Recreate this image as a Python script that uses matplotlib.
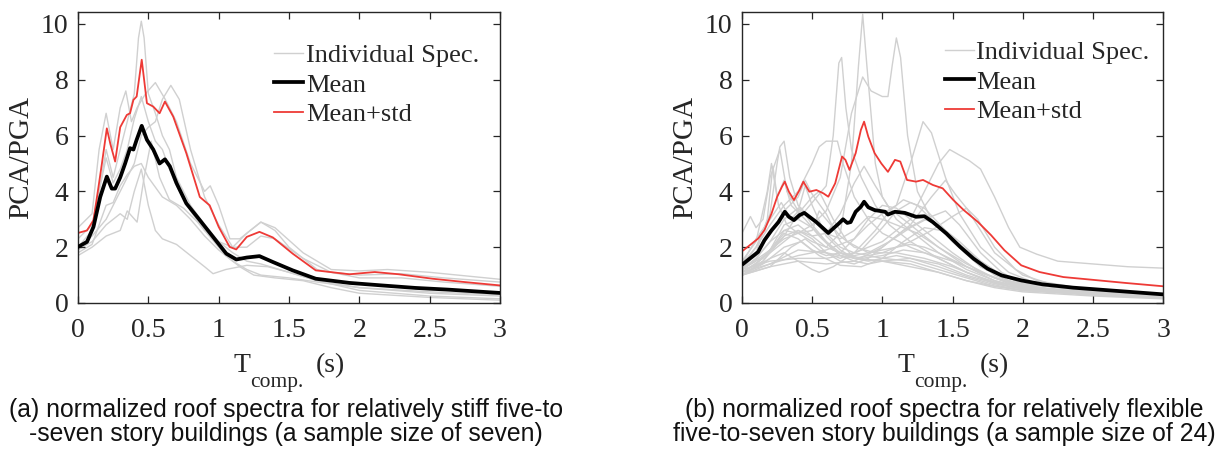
import matplotlib
matplotlib.use("Agg")
import matplotlib.pyplot as plt

plt.rcParams['font.family'] = ['Liberation Serif', 'DejaVu Serif']

# ---------------- Panel (a): stiff buildings ----------------
a_mean_T = [0, 0.064, 0.11, 0.158, 0.205, 0.24, 0.264, 0.30, 0.335, 0.37, 0.394, 0.417, 0.453,
            0.49, 0.535, 0.58, 0.618, 0.653, 0.70, 0.77, 0.866, 0.96, 1.054, 1.125, 1.2, 1.29,
            1.385, 1.526, 1.69, 1.93, 2.16, 2.4, 2.63, 3.0]
a_mean_V = [2.01, 2.19, 2.73, 3.8, 4.53, 4.1, 4.1, 4.5, 5.0, 5.55, 5.5, 5.85, 6.35,
            5.85, 5.5, 5.0, 5.15, 4.9, 4.3, 3.57, 2.97, 2.37, 1.77, 1.56, 1.63, 1.68,
            1.47, 1.17, 0.87, 0.72, 0.63, 0.54, 0.48, 0.36]

a_std_T = [0, 0.064, 0.11, 0.146, 0.17, 0.205, 0.23, 0.264, 0.30, 0.347, 0.37, 0.394, 0.417,
           0.453, 0.49, 0.535, 0.58, 0.618, 0.677, 0.77, 0.866, 0.936, 1.0, 1.078, 1.125, 1.2,
           1.29, 1.385, 1.526, 1.69, 1.93, 2.11, 2.28, 2.52, 2.75, 3.0]
a_std_V = [2.51, 2.6, 2.97, 4.17, 5.0, 6.26, 5.7, 5.07, 6.3, 6.74, 6.8, 7.28, 7.4,
           8.72, 7.16, 7.04, 6.8, 7.22, 6.68, 5.37, 3.8, 3.5, 2.73, 2.01, 1.92, 2.37,
           2.55, 2.35, 1.77, 1.17, 1.03, 1.11, 1.03, 0.87, 0.75, 0.63]

a_indiv = [
    [(0, 2.0), (0.1, 2.6), (0.15, 4.0), (0.2, 5.5), (0.25, 4.5), (0.3, 5.5), (0.35, 6.5), (0.4, 7.5),
     (0.43, 9.5), (0.45, 10.1), (0.47, 9.5), (0.5, 7.5), (0.55, 6.8), (0.6, 6.0), (0.65, 5.5),
     (0.7, 4.5), (0.8, 3.5), (0.9, 2.8), (1.0, 2.2), (1.1, 1.8), (1.2, 1.5), (1.3, 1.4), (1.5, 1.1),
     (1.7, 0.8), (2.0, 0.55), (2.5, 0.35), (3.0, 0.25)],
    [(0, 2.7), (0.1, 3.2), (0.15, 5.5), (0.2, 6.8), (0.25, 5.5), (0.3, 7.0), (0.34, 7.6), (0.38, 6.5),
     (0.42, 7.0), (0.48, 7.5), (0.55, 7.9), (0.62, 7.3), (0.7, 6.5), (0.8, 5.0), (0.9, 4.0),
     (0.94, 4.2), (1.0, 3.5), (1.08, 2.3), (1.15, 2.3), (1.3, 2.9), (1.4, 2.7), (1.6, 1.8),
     (1.8, 1.2), (2.0, 1.15), (2.2, 1.2), (2.5, 1.1), (2.8, 0.95), (3.0, 0.85)],
    [(0, 2.0), (0.1, 2.4), (0.2, 3.0), (0.3, 4.0), (0.4, 5.0), (0.45, 6.0), (0.5, 6.3), (0.55, 6.5),
     (0.6, 7.3), (0.66, 7.8), (0.72, 7.3), (0.8, 5.5), (0.9, 3.8), (1.0, 2.8), (1.1, 2.0),
     (1.2, 2.0), (1.3, 2.4), (1.4, 2.3), (1.6, 1.6), (1.8, 1.1), (2.0, 1.0), (2.3, 1.05),
     (2.6, 0.9), (3.0, 0.75)],
    [(0, 1.9), (0.1, 2.2), (0.2, 2.8), (0.3, 3.2), (0.35, 3.0), (0.4, 4.0), (0.45, 4.8), (0.5, 3.5),
     (0.55, 2.6), (0.6, 2.3), (0.7, 2.1), (0.8, 1.7), (0.9, 1.3), (0.96, 1.05), (1.05, 1.2),
     (1.2, 1.35), (1.35, 1.3), (1.5, 1.1), (1.7, 0.8), (2.0, 0.45), (2.5, 0.25), (3.0, 0.15)],
    [(0, 1.7), (0.1, 2.0), (0.2, 2.4), (0.3, 2.6), (0.35, 3.3), (0.42, 2.9), (0.47, 4.5),
     (0.52, 5.8), (0.58, 4.5), (0.65, 3.7), (0.75, 3.4), (0.85, 2.9), (0.95, 2.3), (1.05, 1.7),
     (1.15, 1.3), (1.25, 1.0), (1.4, 0.9), (1.6, 0.8), (1.8, 0.55), (2.0, 0.35), (2.5, 0.2),
     (3.0, 0.1)],
    [(0, 1.8), (0.1, 2.1), (0.2, 3.5), (0.25, 3.6), (0.3, 4.2), (0.35, 4.6), (0.4, 4.9), (0.45, 5.0),
     (0.5, 4.5), (0.6, 3.8), (0.7, 3.5), (0.8, 3.0), (0.9, 2.4), (1.0, 1.9), (1.1, 1.5), (1.2, 1.2),
     (1.3, 1.0), (1.5, 0.9), (1.7, 0.75), (2.0, 0.55), (2.5, 0.4), (3.0, 0.3)],
    [(0, 2.3), (0.1, 2.8), (0.15, 4.0), (0.2, 5.2), (0.25, 4.3), (0.3, 4.8), (0.35, 5.5), (0.4, 6.6),
     (0.45, 7.4), (0.5, 6.5), (0.55, 5.8), (0.6, 5.5), (0.65, 4.8), (0.7, 4.2), (0.8, 3.3),
     (0.9, 2.6), (1.0, 2.2), (1.1, 2.0), (1.2, 2.5), (1.3, 2.9), (1.4, 2.6), (1.5, 2.0), (1.7, 1.2),
     (2.0, 0.9), (2.3, 0.9), (2.6, 0.75), (3.0, 0.6)],
]

# ---------------- Panel (b): flexible buildings ----------------
b_mean_T = [0.01, 0.04, 0.115, 0.16, 0.21, 0.26, 0.305, 0.334, 0.37, 0.41, 0.444, 0.48, 0.53,
            0.58, 0.615, 0.65, 0.69, 0.72, 0.75, 0.774, 0.81, 0.847, 0.87, 0.9, 0.945, 1.02,
            1.04, 1.09, 1.16, 1.24, 1.3, 1.36, 1.457, 1.555, 1.65, 1.75, 1.85, 1.99, 2.14,
            2.36, 2.6, 3.0]
b_mean_V = [1.41, 1.53, 1.83, 2.25, 2.6, 2.9, 3.27, 3.09, 2.97, 3.15, 3.23, 3.09, 2.9,
            2.67, 2.51, 2.67, 2.85, 3.0, 2.87, 2.9, 3.27, 3.45, 3.63, 3.43, 3.33, 3.27,
            3.17, 3.27, 3.23, 3.09, 3.11, 2.9, 2.49, 2.01, 1.59, 1.23, 0.99, 0.81, 0.67,
            0.55, 0.46, 0.31]

b_std_T = [0.01, 0.04, 0.115, 0.16, 0.21, 0.25, 0.285, 0.305, 0.334, 0.37, 0.41, 0.437, 0.48,
           0.53, 0.58, 0.615, 0.664, 0.713, 0.737, 0.766, 0.81, 0.847, 0.87, 0.9, 0.945, 0.993,
           1.04, 1.09, 1.128, 1.176, 1.24, 1.29, 1.36, 1.43, 1.506, 1.58, 1.68, 1.775, 1.87,
           1.99, 2.12, 2.29, 2.48, 2.73, 3.0]
b_std_V = [1.89, 2.01, 2.31, 2.61, 3.2, 3.8, 4.17, 4.35, 3.99, 3.69, 4.05, 4.35, 3.99,
           4.05, 3.93, 3.81, 4.29, 5.25, 5.13, 4.77, 5.37, 6.2, 6.5, 5.96, 5.37, 5.0,
           4.7, 5.13, 5.07, 4.41, 4.35, 4.41, 4.23, 4.11, 3.69, 3.33, 2.91, 2.43, 1.89,
           1.35, 1.11, 0.93, 0.84, 0.72, 0.6]

b_indiv = [
    [(0, 1.2), (0.1, 1.6), (0.2, 2.2), (0.3, 2.6), (0.4, 2.5), (0.5, 2.2), (0.6, 2.0), (0.7, 2.5),
     (0.78, 5.0), (0.83, 8.5), (0.86, 10.35), (0.89, 8.5), (0.95, 5.0), (1.0, 3.8), (1.1, 3.0),
     (1.2, 2.6), (1.4, 1.8), (1.6, 1.2), (1.8, 0.8), (2.0, 0.55), (2.5, 0.35), (3.0, 0.25)],
    [(0, 1.3), (0.1, 1.8), (0.2, 2.6), (0.3, 3.2), (0.4, 3.0), (0.5, 3.6), (0.6, 4.2), (0.65, 6.0),
     (0.69, 8.6), (0.71, 8.8), (0.74, 7.0), (0.78, 5.5), (0.85, 4.5), (0.95, 3.5), (1.05, 2.8),
     (1.2, 2.2), (1.4, 1.6), (1.6, 1.1), (1.8, 0.75), (2.0, 0.55), (2.5, 0.35), (3.0, 0.25)],
    [(0, 1.1), (0.1, 1.4), (0.2, 1.9), (0.3, 2.3), (0.4, 2.5), (0.5, 2.8), (0.6, 3.3), (0.7, 4.5),
     (0.78, 6.8), (0.86, 8.1), (0.92, 7.6), (0.96, 7.5), (1.0, 7.4), (1.04, 7.4), (1.07, 8.5),
     (1.1, 9.5), (1.13, 8.8), (1.18, 6.0), (1.25, 4.0), (1.35, 3.0), (1.5, 2.2), (1.7, 1.3),
     (1.9, 0.8), (2.1, 0.55), (2.5, 0.35), (3.0, 0.22)],
    [(0, 1.0), (0.2, 1.4), (0.4, 1.7), (0.6, 1.9), (0.8, 2.3), (0.9, 2.8), (1.0, 3.2), (1.1, 3.5),
     (1.2, 5.0), (1.29, 6.5), (1.35, 6.1), (1.45, 4.5), (1.55, 3.2), (1.7, 2.0), (1.9, 1.1),
     (2.1, 0.7), (2.5, 0.4), (3.0, 0.25)],
    [(0, 1.2), (0.2, 1.5), (0.4, 1.6), (0.6, 1.6), (0.8, 1.8), (1.0, 2.2), (1.2, 3.0), (1.3, 4.0),
     (1.4, 5.0), (1.48, 5.5), (1.55, 5.3), (1.62, 5.1), (1.7, 4.8), (1.8, 3.8), (1.9, 2.7),
     (1.98, 2.0), (2.1, 1.75), (2.25, 1.5), (2.5, 1.4), (2.75, 1.3), (3.0, 1.25)],
    [(0, 1.3), (0.1, 2.0), (0.2, 3.2), (0.25, 5.0), (0.27, 5.6), (0.3, 5.8), (0.34, 4.5), (0.4, 3.5),
     (0.5, 3.0), (0.6, 2.5), (0.7, 2.0), (0.8, 1.8), (1.0, 1.6), (1.2, 1.5), (1.4, 1.2), (1.6, 0.9),
     (1.8, 0.6), (2.0, 0.45), (2.5, 0.3), (3.0, 0.2)],
    [(0, 1.4), (0.1, 2.0), (0.2, 2.8), (0.3, 3.5), (0.4, 4.0), (0.5, 5.0), (0.55, 5.6), (0.6, 5.8),
     (0.68, 5.8), (0.72, 5.0), (0.8, 3.8), (0.9, 3.0), (1.0, 2.5), (1.2, 2.0), (1.4, 1.6),
     (1.6, 1.1), (1.8, 0.7), (2.0, 0.5), (2.5, 0.3), (3.0, 0.2)],
    [(0, 1.1), (0.1, 1.4), (0.2, 1.9), (0.3, 2.4), (0.4, 2.6), (0.5, 2.4), (0.6, 2.5), (0.7, 3.2),
     (0.8, 4.3), (0.87, 4.9), (0.95, 4.2), (1.05, 3.4), (1.2, 2.8), (1.4, 2.0), (1.6, 1.3),
     (1.8, 0.8), (2.0, 0.55), (2.5, 0.35), (3.0, 0.25)],
    [(0, 1.0), (0.2, 1.3), (0.4, 1.5), (0.6, 1.4), (0.8, 1.5), (1.0, 2.0), (1.2, 2.8), (1.35, 3.8),
     (1.45, 4.4), (1.52, 3.9), (1.6, 3.4), (1.7, 2.6), (1.8, 1.8), (2.0, 1.0), (2.25, 0.6),
     (2.5, 0.4), (3.0, 0.25)],
    [(0, 2.5), (0.06, 3.1), (0.1, 2.7), (0.15, 3.0), (0.2, 4.5), (0.27, 5.5), (0.32, 4.0),
     (0.4, 3.3), (0.45, 4.2), (0.5, 3.5), (0.6, 2.4), (0.7, 1.9), (0.8, 1.6), (1.0, 1.5),
     (1.2, 1.3), (1.4, 1.1), (1.6, 0.8), (1.8, 0.55), (2.0, 0.4), (2.5, 0.25), (3.0, 0.15)],
    [(0, 1.5), (0.1, 2.2), (0.18, 4.0), (0.21, 5.0), (0.25, 3.8), (0.3, 4.4), (0.35, 3.5),
     (0.45, 3.0), (0.55, 2.4), (0.65, 1.9), (0.8, 1.6), (1.0, 1.5), (1.2, 1.4), (1.4, 1.1),
     (1.6, 0.8), (1.8, 0.6), (2.0, 0.45), (2.5, 0.3), (3.0, 0.2)],
    [(0, 1.0), (0.1, 1.3), (0.2, 1.6), (0.3, 1.8), (0.4, 1.5), (0.5, 1.2), (0.55, 1.1), (0.65, 1.3),
     (0.8, 1.8), (0.95, 2.6), (1.05, 3.3), (1.15, 3.7), (1.25, 3.5), (1.35, 3.0), (1.5, 2.2),
     (1.7, 1.3), (1.9, 0.8), (2.1, 0.55), (2.5, 0.35), (3.0, 0.2)],
    [(0, 1.1), (0.15, 1.6), (0.3, 2.5), (0.4, 2.3), (0.5, 1.9), (0.6, 1.7), (0.7, 1.8), (0.8, 2.3),
     (0.9, 3.0), (1.0, 3.5), (1.1, 3.4), (1.2, 3.0), (1.35, 2.4), (1.5, 1.8), (1.7, 1.1),
     (1.9, 0.7), (2.2, 0.45), (2.6, 0.3), (3.0, 0.2)],
    [(0, 1.2), (0.2, 1.8), (0.3, 2.2), (0.4, 2.6), (0.5, 2.3), (0.6, 1.8), (0.7, 1.5), (0.8, 1.4),
     (0.9, 1.6), (1.0, 2.0), (1.15, 2.6), (1.3, 3.0), (1.4, 2.8), (1.55, 2.2), (1.7, 1.5),
     (1.85, 1.0), (2.0, 0.7), (2.5, 0.4), (3.0, 0.25)],
    [(0, 1.2), (0.2, 1.9), (0.3, 2.8), (0.4, 3.0), (0.5, 2.7), (0.6, 2.2), (0.7, 1.8), (0.8, 1.7),
     (0.9, 1.8), (1.0, 1.9), (1.1, 2.0), (1.2, 2.1), (1.3, 2.0), (1.4, 1.8), (1.6, 1.3),
     (1.8, 0.9), (2.0, 0.6), (2.5, 0.35), (3.0, 0.2)],
    [(0, 1.1), (0.2, 1.4), (0.4, 1.9), (0.6, 1.8), (0.8, 1.6), (1.0, 1.8), (1.2, 2.2), (1.35, 2.6),
     (1.5, 3.1), (1.6, 3.4), (1.68, 3.0), (1.8, 2.0), (1.95, 1.2), (2.1, 0.8), (2.5, 0.45),
     (3.0, 0.3)],
    [(0, 1.3), (0.1, 1.7), (0.2, 2.5), (0.3, 3.3), (0.4, 3.8), (0.45, 4.4), (0.5, 3.9), (0.6, 3.2),
     (0.7, 2.2), (0.8, 1.6), (0.9, 1.5), (1.0, 1.6), (1.1, 1.7), (1.2, 1.6), (1.4, 1.3),
     (1.6, 0.95), (1.8, 0.65), (2.0, 0.45), (2.5, 0.3), (3.0, 0.18)],
    [(0, 1.0), (0.2, 1.3), (0.35, 2.0), (0.45, 2.3), (0.55, 1.9), (0.7, 1.6), (0.85, 1.9),
     (1.0, 2.7), (1.1, 3.3), (1.2, 3.6), (1.3, 3.4), (1.45, 2.6), (1.6, 1.8), (1.8, 1.0),
     (2.0, 0.6), (2.5, 0.35), (3.0, 0.2)],
    [(0, 1.0), (0.15, 1.5), (0.3, 2.6), (0.4, 2.8), (0.5, 2.4), (0.6, 2.0), (0.7, 1.8), (0.85, 1.6),
     (1.0, 1.7), (1.15, 1.9), (1.3, 1.8), (1.5, 1.5), (1.7, 1.1), (1.9, 0.75), (2.2, 0.5),
     (2.6, 0.3), (3.0, 0.2)],
    [(0, 1.2), (0.1, 1.8), (0.18, 3.0), (0.22, 4.9), (0.26, 3.5), (0.32, 2.8), (0.4, 2.5),
     (0.5, 2.6), (0.55, 3.3), (0.6, 3.0), (0.7, 2.4), (0.8, 2.0), (0.95, 1.8), (1.1, 1.8),
     (1.3, 1.6), (1.5, 1.3), (1.7, 0.9), (1.9, 0.6), (2.2, 0.4), (2.6, 0.28), (3.0, 0.18)],
    [(0, 1.1), (0.15, 1.5), (0.3, 2.4), (0.4, 3.2), (0.5, 3.8), (0.55, 4.0), (0.65, 3.0),
     (0.75, 2.2), (0.9, 1.8), (1.05, 2.2), (1.2, 2.7), (1.35, 3.1), (1.45, 3.3), (1.55, 2.8),
     (1.7, 1.8), (1.85, 1.1), (2.0, 0.7), (2.5, 0.4), (3.0, 0.25)],
    [(0, 1.2), (0.1, 1.6), (0.2, 2.2), (0.3, 3.0), (0.4, 3.4), (0.5, 3.0), (0.6, 2.5), (0.7, 2.3),
     (0.8, 2.6), (0.9, 3.1), (1.0, 3.0), (1.1, 2.8), (1.25, 2.5), (1.4, 2.0), (1.6, 1.4),
     (1.8, 0.9), (2.0, 0.6), (2.5, 0.35), (3.0, 0.22)],
    [(0, 1.4), (0.1, 2.3), (0.2, 3.0), (0.28, 3.6), (0.35, 3.0), (0.42, 3.4), (0.5, 2.8), (0.6, 2.2),
     (0.7, 1.7), (0.8, 1.5), (0.9, 1.4), (1.0, 1.5), (1.2, 1.6), (1.4, 1.4), (1.6, 1.0),
     (1.8, 0.7), (2.0, 0.5), (2.5, 0.3), (3.0, 0.18)],
    [(0, 1.0), (0.15, 1.4), (0.3, 2.0), (0.42, 2.2), (0.55, 1.7), (0.7, 1.35), (0.85, 1.3),
     (1.0, 1.6), (1.15, 2.2), (1.3, 2.7), (1.42, 2.6), (1.55, 2.1), (1.7, 1.5), (1.85, 1.0),
     (2.0, 0.7), (2.5, 0.4), (3.0, 0.25)],
]

x_ticks = [0, 0.5, 1, 1.5, 2, 2.5, 3]
x_ticklabels = ['0', '0.5', '1', '1.5', '2', '2.5', '3']
y_ticks = [0, 2, 4, 6, 8, 10]

captions = [
    ["(a) normalized roof spectra for relatively stiff five-to",
     "-seven story buildings (a sample size of seven)"],
    ["(b) normalized roof spectra for relatively flexible",
     "five-to-seven story buildings (a sample size of 24)"],
]
legend_labels = ['Individual Spec.', 'Mean', 'Mean+std']
xlabel_parts = ['T', 'comp.', '(s)']

GRAY = '#d0d0d0'
RED = '#ee3a36'
INK = '#262626'

W, H = 1216, 451
fig = plt.figure(figsize=(W / 100, H / 100), dpi=100)
ax_a = fig.add_axes([78 / W, 1 - 303 / H, 422 / W, 291 / H])
ax_b = fig.add_axes([742 / W, 1 - 303 / H, 421 / W, 291 / H])

panels = [
    (ax_a, a_indiv, a_mean_T, a_mean_V, a_std_T, a_std_V, (0.428, 0.945), 0, 286, captions[0]),
    (ax_b, b_indiv, b_mean_T, b_mean_V, b_std_T, b_std_V, (0.444, 0.955), 664, 944, captions[1]),
]

for ax, indiv, mT, mV, sT, sV, lpos, dx, cap_x, cap in panels:
    h_ind = None
    for curve in indiv:
        ts = [p[0] for p in curve]
        vs = [p[1] for p in curve]
        h_ind, = ax.plot(ts, vs, color=GRAY, lw=1.0, zorder=1)
    h_mean, = ax.plot(mT, mV, color='black', lw=2.7, zorder=3)
    h_std, = ax.plot(sT, sV, color=RED, lw=1.3, zorder=2)
    ax.set_xlim(0, 3)
    ax.set_ylim(0, 10.43)
    ax.set_xticks(x_ticks)
    ax.set_xticklabels(x_ticklabels)
    ax.set_yticks(y_ticks)
    ax.tick_params(direction='in', length=5, width=0.9, top=True, right=True,
                   labelsize=20, colors=INK)
    ax.tick_params(axis='y', pad=7)
    ax.tick_params(axis='x', pad=11)
    for sp in ax.spines.values():
        sp.set_color(INK)
        sp.set_linewidth(1.0)
    ax.set_ylabel('PCA/PGA', fontsize=21, color=INK, labelpad=5)
    leg = ax.legend([h_ind, h_mean, h_std], legend_labels, loc='upper left',
                    bbox_to_anchor=lpos, frameon=False, fontsize=19,
                    handlelength=1.1, handletextpad=0.1, labelspacing=0.22,
                    borderaxespad=0.2)
    for t in leg.get_texts():
        t.set_color(INK)
    # x-axis label: T with subscript "comp." and unit
    fig.text((233 + dx) / W, 1 - 372 / H, xlabel_parts[0], fontsize=20, color=INK,
             ha='left', va='baseline')
    fig.text((250 + dx) / W, 1 - 387 / H, xlabel_parts[1], fontsize=15.5, color=INK,
             ha='left', va='baseline')
    fig.text((316 + dx) / W, 1 - 372 / H, xlabel_parts[2], fontsize=20, color=INK,
             ha='left', va='baseline')
    # caption lines
    for k, line in enumerate(cap):
        fig.text(cap_x / W, 1 - (417 + 24 * k) / H, line, ha='center', va='baseline',
                 fontsize=17.8, family='Liberation Sans', color='#111111')

fig.savefig('out.png', dpi=100)
